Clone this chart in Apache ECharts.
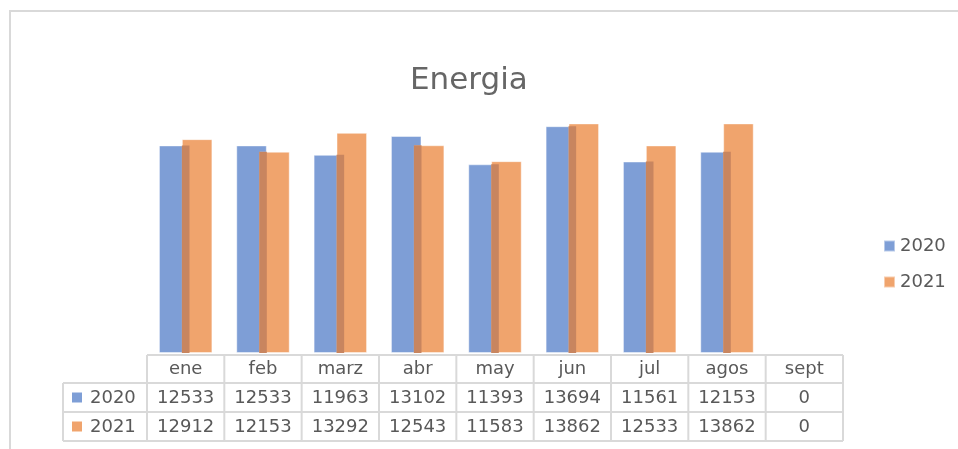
<!DOCTYPE html>
<html>
<head>
<meta charset="utf-8">
<script src="https://cdn.jsdelivr.net/npm/echarts@6/dist/echarts.min.js"></script>
<style>
  html, body { margin: 0; padding: 0; background: #fff; }
  #main { width: 958px; height: 449px; }
</style>
</head>
<body>
<div id="main"></div>
<script>
// datos
var meses = ['ene', 'feb', 'marz', 'abr', 'may', 'jun', 'jul', 'agos', 'sept'];
var anios = ['2020', '2021'];
var v2020 = [12533, 12533, 11963, 13102, 11393, 13694, 11561, 12153, 0];
var v2021 = [12912, 12153, 13292, 12543, 11583, 13862, 12533, 13862, 0];

var azul = '#7E9ED6';
var naranja = '#F0A46D';
var cruce = '#C8855F';
var gris = '#595959';
var linea = '#D9D9D9';

// zona del grafico y tabla
var gLeft = 147, gRight = 843, gTop = 88, gBottom = 353;
var colW = (gRight - gLeft) / meses.length;
var filas = [355, 383, 412, 441];
var barW = 0.395; // fraccion de la categoria

var chart = echarts.init(document.getElementById('main'), null, { renderer: 'canvas' });

// tabla de datos debajo del eje
function tabla() {
  var els = [];
  var ln = { stroke: linea, lineWidth: 2 };
  els.push({ type: 'line', shape: { x1: gLeft, y1: filas[0], x2: gRight, y2: filas[0] }, style: ln });
  for (var r = 1; r < filas.length; r++) {
    els.push({ type: 'line', shape: { x1: 63, y1: filas[r], x2: gRight, y2: filas[r] }, style: ln });
  }
  els.push({ type: 'line', shape: { x1: 63, y1: filas[1], x2: 63, y2: filas[3] }, style: ln });
  for (var k = 0; k <= meses.length; k++) {
    var x = gLeft + k * colW;
    els.push({ type: 'line', shape: { x1: x, y1: filas[0], x2: x, y2: filas[3] }, style: ln });
  }
  var txt = function (x, y, s) {
    return { type: 'text', x: x, y: y, style: { text: String(s), fill: gris, font: '18px "DejaVu Sans"', align: 'center', verticalAlign: 'middle' } };
  };
  var series = [v2020, v2021];
  var cols = [azul, naranja];
  meses.forEach(function (m, i) {
    var cx = gLeft + (i + 0.5) * colW;
    els.push(txt(cx, (filas[0] + filas[1]) / 2, m));
    series.forEach(function (vals, j) {
      els.push(txt(cx, (filas[j + 1] + filas[j + 2]) / 2 + 1, vals[i]));
    });
  });
  anios.forEach(function (a, j) {
    var cy = (filas[j + 1] + filas[j + 2]) / 2;
    els.push({ type: 'rect', shape: { x: 72, y: cy - 5, width: 10, height: 10 }, style: { fill: cols[j] } });
    els.push({ type: 'text', x: 90, y: cy + 1, style: { text: a, fill: gris, font: '18px "DejaVu Sans"', verticalAlign: 'middle' } });
  });
  // marco exterior
  els.push({ type: 'rect', shape: { x: 10, y: 11, width: 960, height: 460 }, style: { fill: null, stroke: linea, lineWidth: 2 }, z: -1 });
  return els;
}

var option = {
  backgroundColor: '#fff',
  animation: false,
  title: {
    text: 'Energia',
    left: 405, top: 60,
    textStyle: { fontFamily: 'DejaVu Sans', fontWeight: 'normal', fontSize: 31, color: '#666666' }
  },
  legend: {
    data: anios,
    orient: 'vertical',
    left: 878, top: 232,
    itemWidth: 11, itemHeight: 11, itemGap: 18,
    icon: 'rect',
    textStyle: { fontFamily: 'DejaVu Sans', fontSize: 18, color: gris }
  },
  grid: { left: gLeft, right: 958 - gRight, top: gTop, bottom: 449 - gBottom, containLabel: false },
  xAxis: {
    type: 'category', data: meses,
    axisLine: { show: false }, axisTick: { show: false }, axisLabel: { show: false }
  },
  yAxis: {
    type: 'value', min: 0, max: 16000, show: false, splitLine: { show: false }
  },
  series: [
    { name: '2020', type: 'bar', data: v2020, barWidth: (barW * 100) + '%', barGap: '-25%',
      itemStyle: { color: azul, borderColor: 'rgba(255,255,255,0.45)', borderWidth: 1 } },
    { name: '2021', type: 'bar', data: v2021, barWidth: (barW * 100) + '%',
      itemStyle: { color: naranja, borderColor: 'rgba(255,255,255,0.45)', borderWidth: 1 } },
    {
      // zona donde se solapan las barras
      type: 'custom', z: 5, silent: true,
      data: meses.map(function (m, i) { return [i, Math.min(v2020[i], v2021[i])]; }),
      renderItem: function (params, api) {
        var top = api.coord([api.value(0), api.value(1)]);
        var base = api.coord([api.value(0), 0]);
        var bw = api.size([1, 0])[0] * barW;
        var w = bw * 0.25;
        return { type: 'rect', shape: { x: top[0] - w / 2, y: top[1], width: w, height: base[1] - top[1] }, style: { fill: cruce } };
      }
    }
  ],
  graphic: tabla()
};
chart.setOption(option);
</script>
</body>
</html>
